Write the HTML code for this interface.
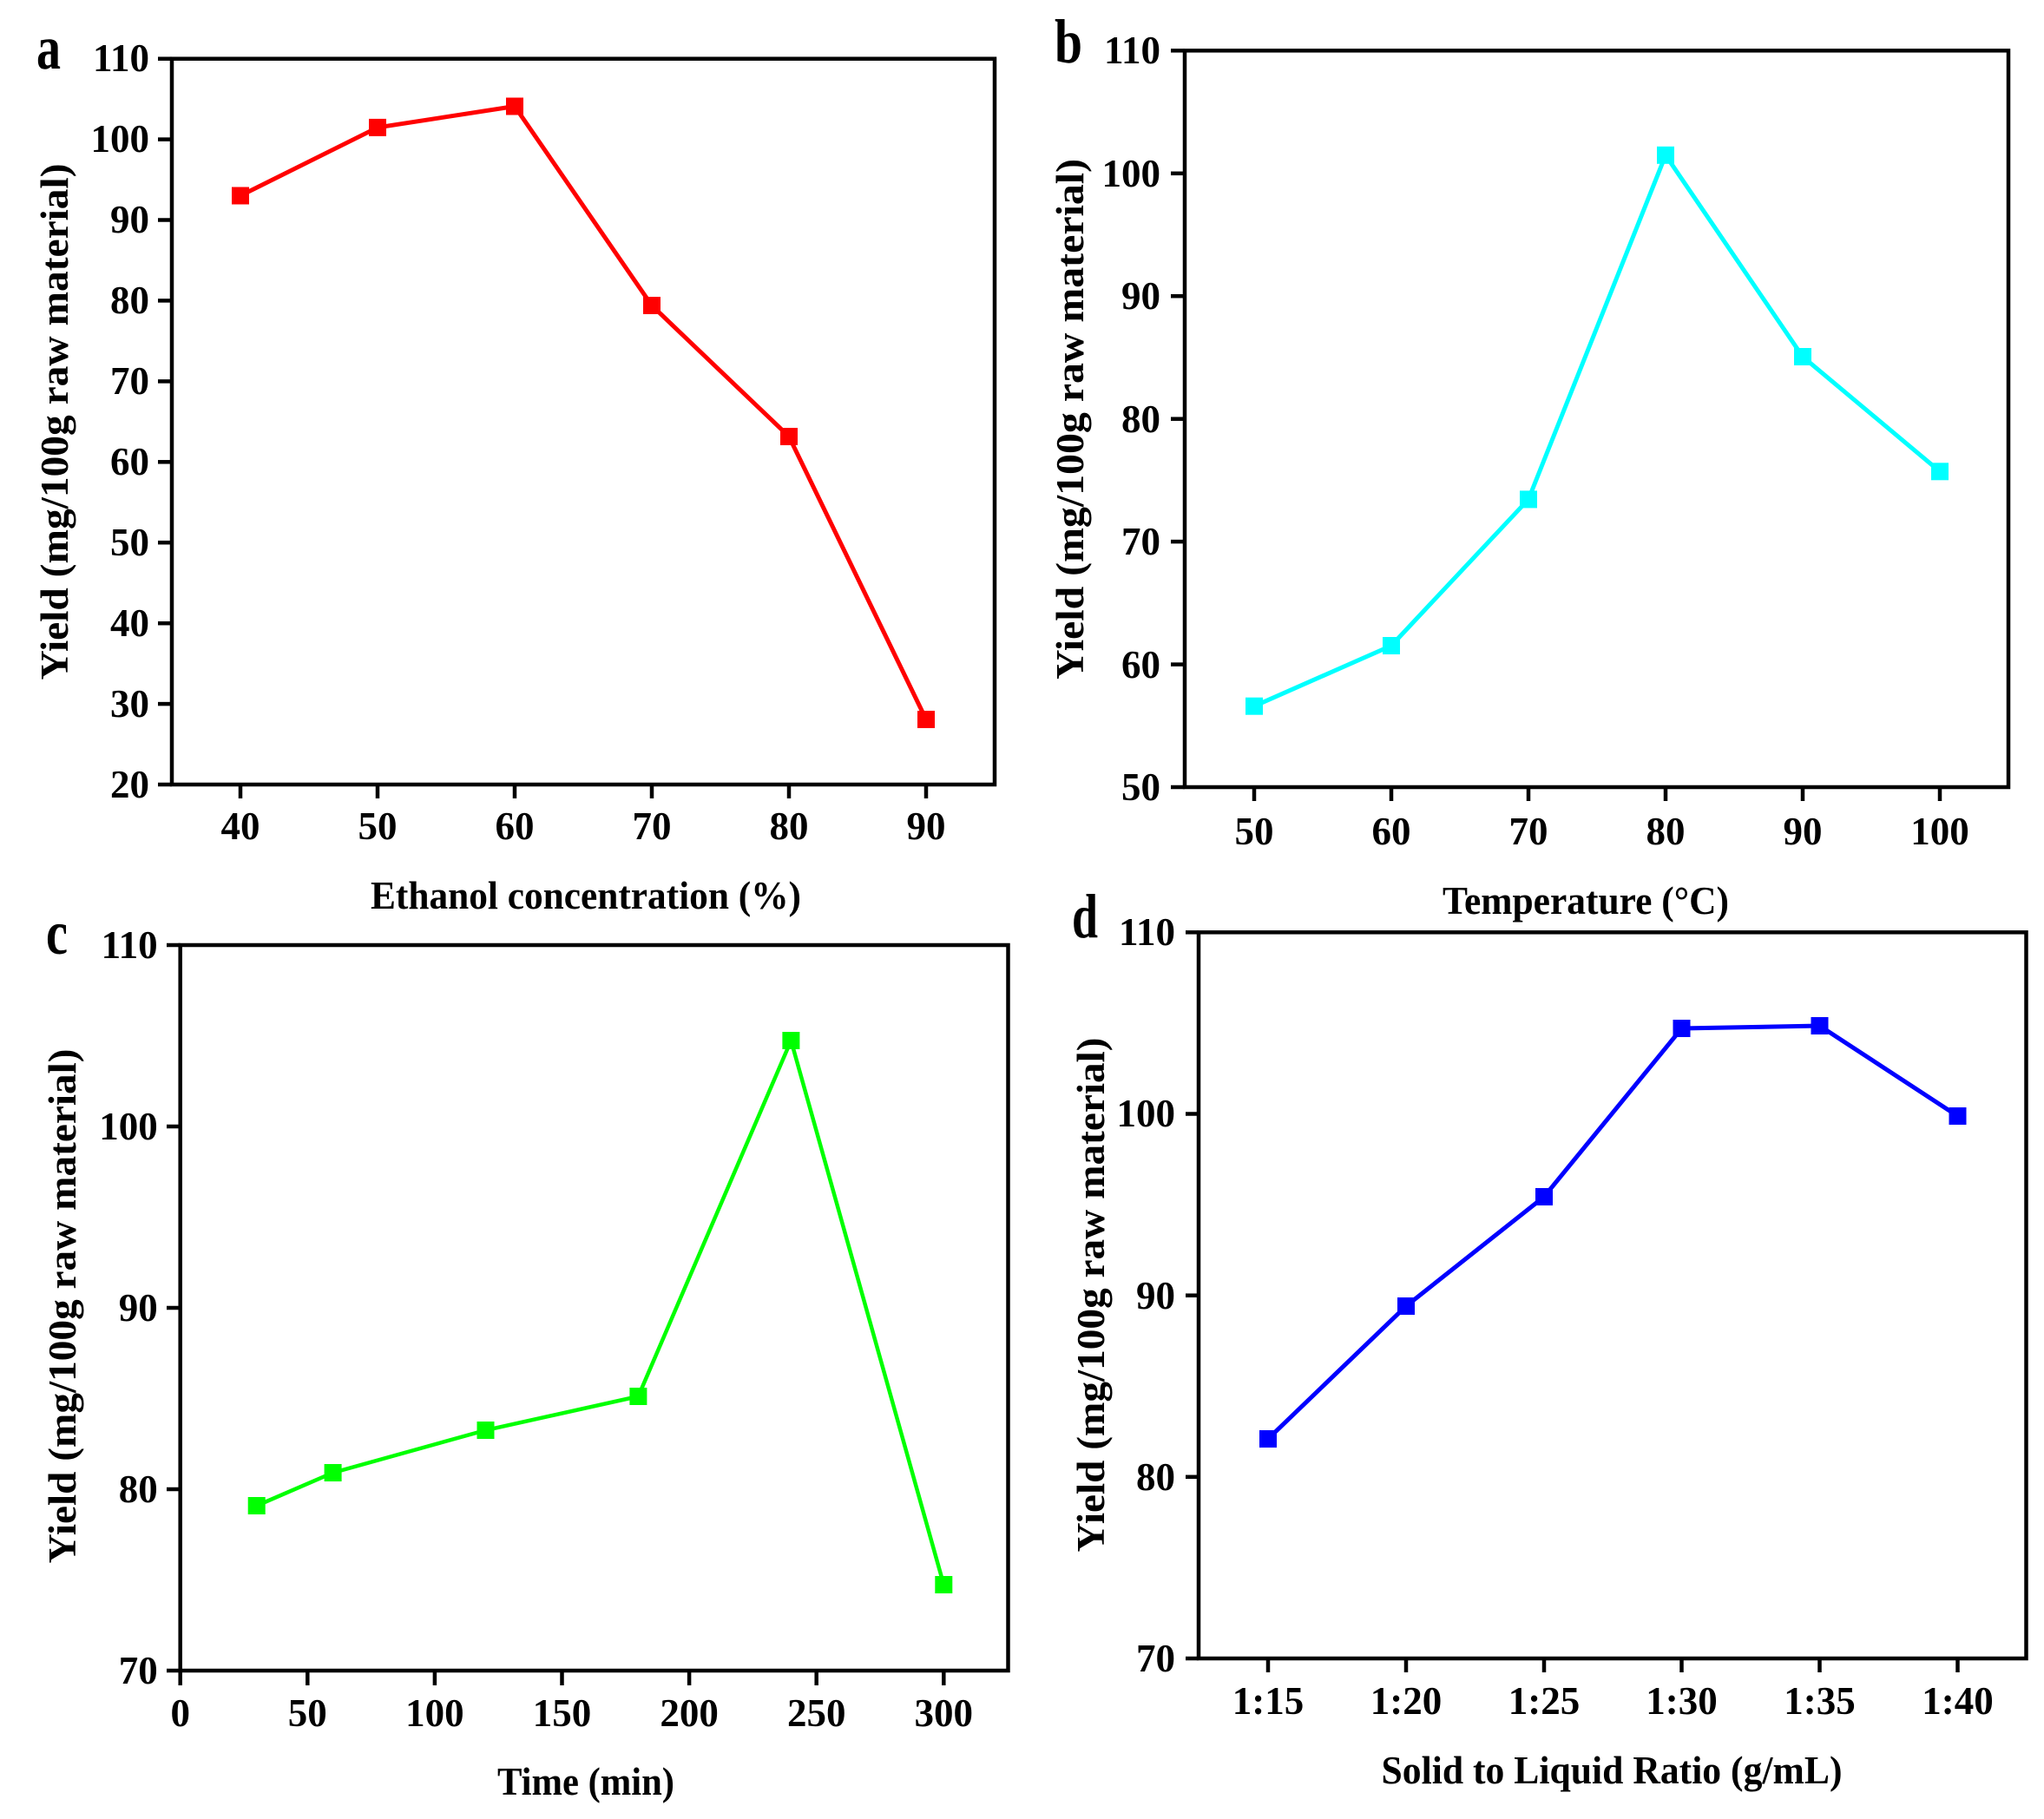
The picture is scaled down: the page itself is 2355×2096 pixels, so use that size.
<!DOCTYPE html>
<html>
<head>
<meta charset="utf-8">
<style>
  html, body { margin: 0; padding: 0; background: #ffffff; }
  svg { display: block; }
  text { font-family: "Liberation Serif", "Times New Roman", serif; font-weight: bold; fill: #000; }
  .tk { font-size: 45px; }
  .ttl { font-size: 45px; }
  .pl { font-size: 72px; }
</style>
</head>
<body>
<svg width="2355" height="2096" viewBox="0 0 2355 2096" xmlns="http://www.w3.org/2000/svg">
  <rect x="0" y="0" width="2355" height="2096" fill="#ffffff"/>

  <!-- ============ Panel a ============ -->
  <text class="pl" x="42" y="79" textLength="28" lengthAdjust="spacingAndGlyphs">a</text>
  <g stroke="#000" stroke-width="4.5" fill="none">
    <rect x="198" y="67.7" width="948" height="836.3"/>
    <line x1="182" y1="67.7" x2="198" y2="67.7"/>
    <line x1="182" y1="160.6" x2="198" y2="160.6"/>
    <line x1="182" y1="253.5" x2="198" y2="253.5"/>
    <line x1="182" y1="346.4" x2="198" y2="346.4"/>
    <line x1="182" y1="439.4" x2="198" y2="439.4"/>
    <line x1="182" y1="532.3" x2="198" y2="532.3"/>
    <line x1="182" y1="625.2" x2="198" y2="625.2"/>
    <line x1="182" y1="718.2" x2="198" y2="718.2"/>
    <line x1="182" y1="811.1" x2="198" y2="811.1"/>
    <line x1="182" y1="904" x2="198" y2="904"/>
    <line x1="277" y1="904" x2="277" y2="920"/>
    <line x1="435" y1="904" x2="435" y2="920"/>
    <line x1="593" y1="904" x2="593" y2="920"/>
    <line x1="751" y1="904" x2="751" y2="920"/>
    <line x1="909" y1="904" x2="909" y2="920"/>
    <line x1="1067" y1="904" x2="1067" y2="920"/>
  </g>
  <g text-anchor="end">
    <text class="tk" x="172" y="82">110</text>
    <text class="tk" x="172" y="175">100</text>
    <text class="tk" x="172" y="268">90</text>
    <text class="tk" x="172" y="361">80</text>
    <text class="tk" x="172" y="454">70</text>
    <text class="tk" x="172" y="547">60</text>
    <text class="tk" x="172" y="640">50</text>
    <text class="tk" x="172" y="733">40</text>
    <text class="tk" x="172" y="826">30</text>
    <text class="tk" x="172" y="919">20</text>
  </g>
  <g text-anchor="middle">
    <text class="tk" x="277" y="967">40</text>
    <text class="tk" x="435" y="967">50</text>
    <text class="tk" x="593" y="967">60</text>
    <text class="tk" x="751" y="967">70</text>
    <text class="tk" x="909" y="967">80</text>
    <text class="tk" x="1067" y="967">90</text>
  </g>
  <text class="ttl" x="675" y="1047" text-anchor="middle" textLength="496" lengthAdjust="spacingAndGlyphs">Ethanol concentration (%)</text>
  <text class="ttl" x="78" y="486" text-anchor="middle" transform="rotate(-90 78 486)" textLength="595" lengthAdjust="spacingAndGlyphs">Yield (mg/100g raw material)</text>
  <polyline fill="none" stroke="#ff0000" stroke-width="5"
    points="277,225.5 435,146.9 593,122.5 751,352 909,503 1067,829"/>
  <g fill="#ff0000">
    <rect x="267" y="215.5" width="20" height="20"/>
    <rect x="425" y="136.9" width="20" height="20"/>
    <rect x="583" y="112.5" width="20" height="20"/>
    <rect x="741" y="342" width="20" height="20"/>
    <rect x="899" y="493" width="20" height="20"/>
    <rect x="1057" y="819" width="20" height="20"/>
  </g>

  <!-- ============ Panel b ============ -->
  <text class="pl" x="1215" y="72" textLength="32" lengthAdjust="spacingAndGlyphs">b</text>
  <g stroke="#000" stroke-width="4.5" fill="none">
    <rect x="1365" y="58.3" width="949" height="848.7"/>
    <line x1="1349" y1="58.3" x2="1365" y2="58.3"/>
    <line x1="1349" y1="199.8" x2="1365" y2="199.8"/>
    <line x1="1349" y1="341.2" x2="1365" y2="341.2"/>
    <line x1="1349" y1="482.7" x2="1365" y2="482.7"/>
    <line x1="1349" y1="624.1" x2="1365" y2="624.1"/>
    <line x1="1349" y1="765.6" x2="1365" y2="765.6"/>
    <line x1="1349" y1="907" x2="1365" y2="907"/>
    <line x1="1445" y1="907" x2="1445" y2="923"/>
    <line x1="1603" y1="907" x2="1603" y2="923"/>
    <line x1="1761" y1="907" x2="1761" y2="923"/>
    <line x1="1919" y1="907" x2="1919" y2="923"/>
    <line x1="2077" y1="907" x2="2077" y2="923"/>
    <line x1="2235" y1="907" x2="2235" y2="923"/>
  </g>
  <g text-anchor="end">
    <text class="tk" x="1337" y="73">110</text>
    <text class="tk" x="1337" y="215">100</text>
    <text class="tk" x="1337" y="356">90</text>
    <text class="tk" x="1337" y="498">80</text>
    <text class="tk" x="1337" y="639">70</text>
    <text class="tk" x="1337" y="781">60</text>
    <text class="tk" x="1337" y="922">50</text>
  </g>
  <g text-anchor="middle">
    <text class="tk" x="1445" y="973">50</text>
    <text class="tk" x="1603" y="973">60</text>
    <text class="tk" x="1761" y="973">70</text>
    <text class="tk" x="1919" y="973">80</text>
    <text class="tk" x="2077" y="973">90</text>
    <text class="tk" x="2235" y="973">100</text>
  </g>
  <text class="ttl" x="1827" y="1053" text-anchor="middle" textLength="330" lengthAdjust="spacingAndGlyphs">Temperature (°C)</text>
  <text class="ttl" x="1248" y="483" text-anchor="middle" transform="rotate(-90 1248 483)" textLength="600" lengthAdjust="spacingAndGlyphs">Yield (mg/100g raw material)</text>
  <polyline fill="none" stroke="#00ffff" stroke-width="5"
    points="1445,813.7 1603,744 1761,575.4 1919,178.8 2077,411 2235,543.3"/>
  <g fill="#00ffff">
    <rect x="1435" y="803.7" width="20" height="20"/>
    <rect x="1593" y="734" width="20" height="20"/>
    <rect x="1751" y="565.4" width="20" height="20"/>
    <rect x="1909" y="168.8" width="20" height="20"/>
    <rect x="2067" y="401" width="20" height="20"/>
    <rect x="2225" y="533.3" width="20" height="20"/>
  </g>

  <!-- ============ Panel c ============ -->
  <text class="pl" x="53" y="1099" textLength="25" lengthAdjust="spacingAndGlyphs">c</text>
  <g stroke="#000" stroke-width="4.5" fill="none">
    <rect x="207.7" y="1089" width="953.8" height="836"/>
    <line x1="192" y1="1089" x2="207.7" y2="1089"/>
    <line x1="192" y1="1298" x2="207.7" y2="1298"/>
    <line x1="192" y1="1507" x2="207.7" y2="1507"/>
    <line x1="192" y1="1716" x2="207.7" y2="1716"/>
    <line x1="192" y1="1925" x2="207.7" y2="1925"/>
    <line x1="207.7" y1="1925" x2="207.7" y2="1942"/>
    <line x1="354.3" y1="1925" x2="354.3" y2="1942"/>
    <line x1="500.9" y1="1925" x2="500.9" y2="1942"/>
    <line x1="647.5" y1="1925" x2="647.5" y2="1942"/>
    <line x1="794.1" y1="1925" x2="794.1" y2="1942"/>
    <line x1="940.7" y1="1925" x2="940.7" y2="1942"/>
    <line x1="1087.3" y1="1925" x2="1087.3" y2="1942"/>
  </g>
  <g text-anchor="end">
    <text class="tk" x="181.7" y="1104">110</text>
    <text class="tk" x="181.7" y="1313">100</text>
    <text class="tk" x="181.7" y="1522">90</text>
    <text class="tk" x="181.7" y="1731">80</text>
    <text class="tk" x="181.7" y="1940">70</text>
  </g>
  <g text-anchor="middle">
    <text class="tk" x="207.7" y="1989">0</text>
    <text class="tk" x="354.3" y="1989">50</text>
    <text class="tk" x="500.9" y="1989">100</text>
    <text class="tk" x="647.5" y="1989">150</text>
    <text class="tk" x="794.1" y="1989">200</text>
    <text class="tk" x="940.7" y="1989">250</text>
    <text class="tk" x="1087.3" y="1989">300</text>
  </g>
  <text class="ttl" x="675" y="2068" text-anchor="middle" textLength="204" lengthAdjust="spacingAndGlyphs">Time (min)</text>
  <text class="ttl" x="87" y="1505" text-anchor="middle" transform="rotate(-90 87 1505)" textLength="593" lengthAdjust="spacingAndGlyphs">Yield (mg/100g raw material)</text>
  <polyline fill="none" stroke="#00ff00" stroke-width="4.5"
    points="295.7,1735 383.6,1697 559.5,1648 735.4,1609 911.4,1199 1087.3,1826"/>
  <g fill="#00ff00">
    <rect x="285.7" y="1725" width="20" height="20"/>
    <rect x="373.6" y="1687" width="20" height="20"/>
    <rect x="549.5" y="1638" width="20" height="20"/>
    <rect x="725.4" y="1599" width="20" height="20"/>
    <rect x="901.4" y="1189" width="20" height="20"/>
    <rect x="1077.3" y="1816" width="20" height="20"/>
  </g>

  <!-- ============ Panel d ============ -->
  <text class="pl" x="1235" y="1080" textLength="30" lengthAdjust="spacingAndGlyphs">d</text>
  <g stroke="#000" stroke-width="4.5" fill="none">
    <rect x="1381" y="1074.3" width="953.5" height="836.7"/>
    <line x1="1366" y1="1074.3" x2="1381" y2="1074.3"/>
    <line x1="1366" y1="1283.5" x2="1381" y2="1283.5"/>
    <line x1="1366" y1="1492.7" x2="1381" y2="1492.7"/>
    <line x1="1366" y1="1701.8" x2="1381" y2="1701.8"/>
    <line x1="1366" y1="1911" x2="1381" y2="1911"/>
    <line x1="1461" y1="1911" x2="1461" y2="1927"/>
    <line x1="1620" y1="1911" x2="1620" y2="1927"/>
    <line x1="1779" y1="1911" x2="1779" y2="1927"/>
    <line x1="1937.5" y1="1911" x2="1937.5" y2="1927"/>
    <line x1="2096.5" y1="1911" x2="2096.5" y2="1927"/>
    <line x1="2255.5" y1="1911" x2="2255.5" y2="1927"/>
  </g>
  <g text-anchor="end">
    <text class="tk" x="1354" y="1089">110</text>
    <text class="tk" x="1354" y="1298">100</text>
    <text class="tk" x="1354" y="1508">90</text>
    <text class="tk" x="1354" y="1717">80</text>
    <text class="tk" x="1354" y="1926">70</text>
  </g>
  <g text-anchor="middle">
    <text class="tk" x="1461" y="1975">1:15</text>
    <text class="tk" x="1620" y="1975">1:20</text>
    <text class="tk" x="1779" y="1975">1:25</text>
    <text class="tk" x="1937.5" y="1975">1:30</text>
    <text class="tk" x="2096.5" y="1975">1:35</text>
    <text class="tk" x="2255.5" y="1975">1:40</text>
  </g>
  <text class="ttl" x="1857" y="2055" text-anchor="middle" textLength="531" lengthAdjust="spacingAndGlyphs">Solid to Liquid Ratio (g/mL)</text>
  <text class="ttl" x="1272" y="1492" text-anchor="middle" transform="rotate(-90 1272 1492)" textLength="593" lengthAdjust="spacingAndGlyphs">Yield (mg/100g raw material)</text>
  <polyline fill="none" stroke="#0000ff" stroke-width="5"
    points="1461,1658 1620,1505 1779,1379 1937.5,1185 2096.5,1182 2255.5,1286"/>
  <g fill="#0000ff">
    <rect x="1451" y="1648" width="20" height="20"/>
    <rect x="1610" y="1495" width="20" height="20"/>
    <rect x="1769" y="1369" width="20" height="20"/>
    <rect x="1927.5" y="1175" width="20" height="20"/>
    <rect x="2086.5" y="1172" width="20" height="20"/>
    <rect x="2245.5" y="1276" width="20" height="20"/>
  </g>
</svg>
</body>
</html>
